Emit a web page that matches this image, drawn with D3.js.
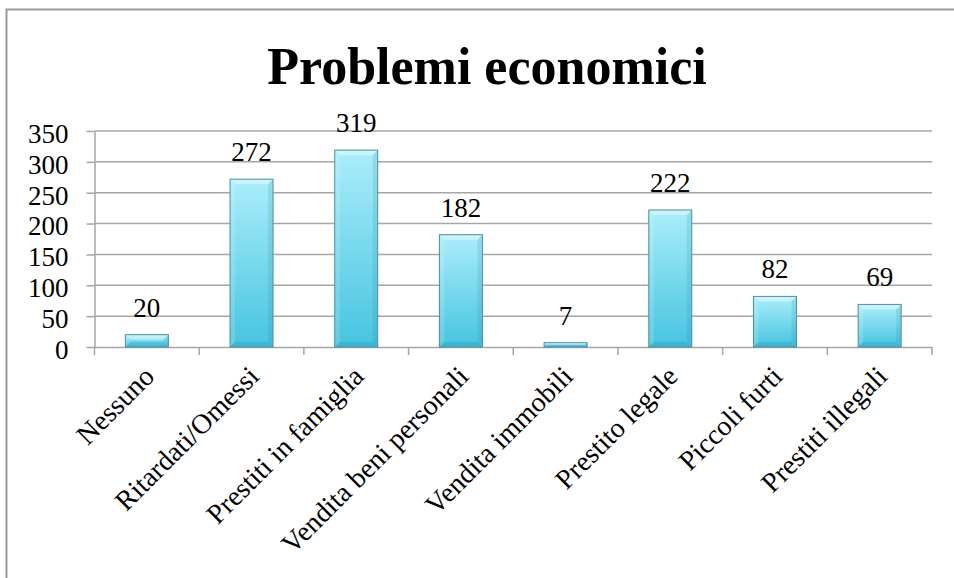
<!DOCTYPE html>
<html>
<head>
<meta charset="utf-8">
<script src="https://cdn.jsdelivr.net/npm/d3@7"></script>
<style>
  html, body { margin: 0; padding: 0; background: #fff; }
  svg { display: block; }
  text { font-family: "Liberation Serif", "Times New Roman", serif; fill: #000; }
</style>
</head>
<body>
<svg id="chart" width="954" height="578"></svg>
<script>
const categories = ["Nessuno", "Ritardati/Omessi", "Prestiti in famiglia", "Vendita beni personali",
                    "Vendita immobili", "Prestito legale", "Piccoli furti", "Prestiti illegali"];
const values = [20, 272, 319, 182, 7, 222, 82, 69];
const yTicks = [0, 50, 100, 150, 200, 250, 300, 350];
const title = "Problemi economici";

const svg = d3.select("#chart");
const W = 954, H = 578;
const FONT = 27;

// outer frame of the chart area
svg.append("rect")
  .attr("x", 6.5).attr("y", 9.5)
  .attr("width", W + 20).attr("height", H + 20)
  .attr("fill", "#fff").attr("stroke", "#9a9a9a").attr("stroke-width", 2);

const plot = { left: 94.5, right: 932, top: 131, bottom: 347 };

const x = d3.scaleBand().domain(categories).range([plot.left, plot.right]).paddingInner(0).paddingOuter(0);
const y = d3.scaleLinear().domain([0, 350]).range([plot.bottom, plot.top]);

// gradient for bars
const defs = svg.append("defs");
const grad = defs.append("linearGradient").attr("id", "barGrad")
  .attr("x1", 0).attr("y1", 0).attr("x2", 0).attr("y2", 1);
grad.append("stop").attr("offset", "0%").attr("stop-color", "#abedfa");
grad.append("stop").attr("offset", "100%").attr("stop-color", "#46c4e0");

// horizontal gridlines
svg.append("g")
  .selectAll("line")
  .data(yTicks.filter(d => d > 0))
  .join("line")
  .attr("x1", plot.left).attr("x2", plot.right)
  .attr("y1", d => y(d)).attr("y2", d => y(d))
  .attr("stroke", "#a6a6a6").attr("stroke-width", 1.5);

// y axis
const yAxis = svg.append("g")
  .attr("transform", `translate(${plot.left},0)`)
  .call(d3.axisLeft(y).tickValues(yTicks).tickSize(8).tickPadding(18).tickSizeOuter(0));
yAxis.select(".domain").attr("stroke", "#a6a6a6").attr("stroke-width", 1.5);
yAxis.selectAll(".tick line").attr("stroke", "#a6a6a6").attr("stroke-width", 1.5);
yAxis.selectAll(".tick text")
  .style("font-family", '"Liberation Serif", serif')
  .style("font-size", FONT + "px").attr("fill", "#000").attr("dy", "0.42em");

// x axis
const xAxis = svg.append("g")
  .attr("transform", `translate(0,${plot.bottom})`)
  .call(d3.axisBottom(x).tickSize(0).tickFormat(""));
xAxis.select(".domain").attr("stroke", "#a6a6a6").attr("stroke-width", 1.5);
// ticks at band boundaries
const bounds = categories.map(c => x(c)).concat([plot.right]);
xAxis.selectAll(".bound")
  .data(bounds)
  .join("line")
  .attr("class", "bound")
  .attr("x1", d => d).attr("x2", d => d)
  .attr("y1", 0).attr("y2", 8)
  .attr("stroke", "#a6a6a6").attr("stroke-width", 1.5);

// bars
const barW = 43;
const bev = 5;
const bars = svg.append("g").selectAll("g.bar")
  .data(categories.map((c, i) => ({ c, v: values[i] })))
  .join("g").attr("class", "bar");

bars.each(function(d) {
  const g = d3.select(this);
  const x0 = x(d.c) + (x.bandwidth() - barW) / 2;
  const x1 = x0 + barW;
  const yt = y(d.v), yb = y(0);
  const b = Math.min(bev, (yb - yt) / 2);
  g.append("rect")
    .attr("x", x0).attr("y", yt).attr("width", barW).attr("height", yb - yt)
    .attr("fill", "url(#barGrad)");
  // bevel facets
  g.append("polygon")
    .attr("points", [[x0, yt], [x1, yt], [x1 - b, yt + b], [x0 + b, yt + b]].join(" "))
    .attr("fill", "#ffffff").attr("fill-opacity", 0.4);
  g.append("polygon")
    .attr("points", [[x0, yt], [x0 + b, yt + b], [x0 + b, yb - b], [x0, yb]].join(" "))
    .attr("fill", "#ffffff").attr("fill-opacity", 0.15);
  g.append("polygon")
    .attr("points", [[x1, yt], [x1, yb], [x1 - b, yb - b], [x1 - b, yt + b]].join(" "))
    .attr("fill", "#1a7f99").attr("fill-opacity", 0.15);
  g.append("polygon")
    .attr("points", [[x0, yb], [x1, yb], [x1 - b, yb - b], [x0 + b, yb - b]].join(" "))
    .attr("fill", "#1a7f99").attr("fill-opacity", 0.22);
  g.append("rect")
    .attr("x", x0).attr("y", yt).attr("width", barW).attr("height", yb - yt)
    .attr("fill", "none").attr("stroke", "#4f8e9c").attr("stroke-width", 1);
});

// value labels
svg.append("g").selectAll("text")
  .data(categories.map((c, i) => ({ c, v: values[i] })))
  .join("text")
  .attr("x", d => x(d.c) + x.bandwidth() / 2)
  .attr("y", d => y(d.v) - 18)
  .attr("text-anchor", "middle")
  .style("font-size", FONT + "px")
  .text(d => d.v);

// rotated category labels
svg.append("g").selectAll("text")
  .data(categories)
  .join("text")
  .attr("text-anchor", "end")
  .attr("transform", d => `translate(${x(d) + x.bandwidth() / 2 + 9},${plot.bottom + 31}) rotate(-45)`)
  .style("font-size", "28px")
  .text(d => d);

// title
svg.append("text")
  .attr("x", 487).attr("y", 84)
  .attr("text-anchor", "middle")
  .style("font-size", "52px").style("font-weight", "bold")
  .text(title);
</script>
</body>
</html>
